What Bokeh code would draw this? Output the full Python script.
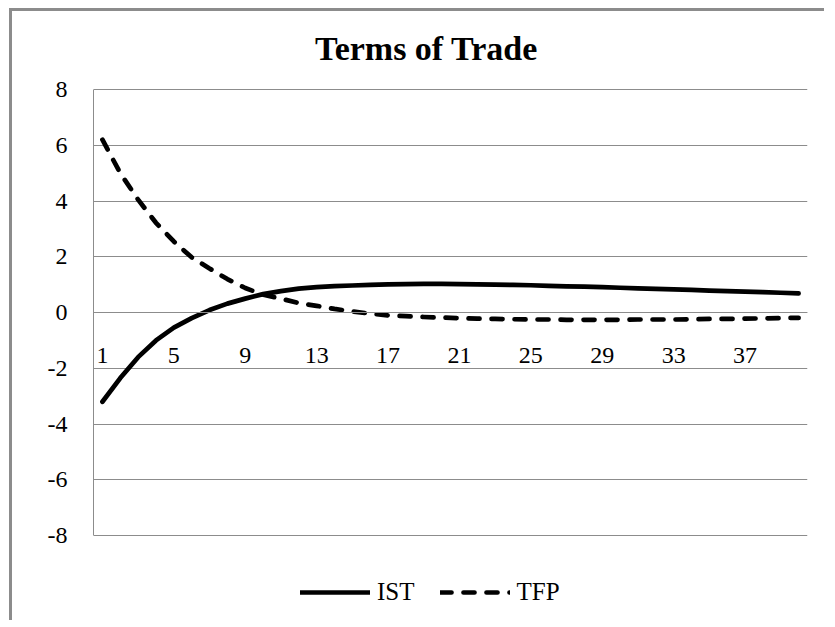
from bokeh.plotting import figure
from bokeh.models import Range1d, FixedTicker, Legend, LegendItem, LinearAxis, Grid, Label
from bokeh.embed import file_html
from bokeh.resources import INLINE

# ---- data ----
periods = list(range(1, 41))
ist = [-3.2, -2.35, -1.6, -1.0, -0.54, -0.2, 0.09, 0.32, 0.5, 0.66,
       0.77, 0.86, 0.91, 0.95, 0.97, 0.99, 1.01, 1.02, 1.03, 1.03,
       1.02, 1.01, 1.0, 0.99, 0.98, 0.96, 0.94, 0.93, 0.91, 0.89,
       0.87, 0.85, 0.83, 0.81, 0.79, 0.77, 0.75, 0.73, 0.71, 0.69]
tfp = [6.2, 5.0, 4.05, 3.22, 2.55, 1.98, 1.58, 1.2, 0.88, 0.64,
       0.5, 0.34, 0.24, 0.13, 0.04, -0.04, -0.1, -0.13, -0.16, -0.18,
       -0.2, -0.22, -0.23, -0.24, -0.25, -0.25, -0.26, -0.26, -0.26, -0.26,
       -0.25, -0.25, -0.25, -0.24, -0.23, -0.23, -0.22, -0.21, -0.2, -0.19]
x_ticks = [1, 5, 9, 13, 17, 21, 25, 29, 33, 37]
x_tick_labels = ["1", "5", "9", "13", "17", "21", "25", "29", "33", "37"]
y_ticks = [-8, -6, -4, -2, 0, 2, 4, 6, 8]
y_tick_labels = ["-8", "-6", "-4", "-2", "0", "2", "4", "6", "8"]
series_names = ["IST", "TFP"]
title_text = "Terms of Trade"

FONT = "Liberation Serif"
GRID = "#8c8c8c"

# the frame spans the full canvas height so the title and legend (drawn in the frame) are not clipped
p = figure(width=815, height=612, output_backend="svg", toolbar_location=None, title=None,
           x_range=Range1d(0.5, 40.5), y_range=Range1d(-11.155, 10.8),
           x_axis_location=None, y_axis_location=None,
           min_border_left=81, min_border_right=20, min_border_top=0, min_border_bottom=0)
p.styles = {"margin-left": "9px", "margin-top": "8px",
            "border-left": "3px solid #8c8c8c", "border-top": "3px solid #8c8c8c"}
p.outline_line_color = None
p.background_fill_color = "white"
p.border_fill_color = "white"
for g in p.grid:
    g.visible = False

# y axis (line limited to the -8..8 band)
yticker = FixedTicker(ticks=y_ticks)
yaxis = LinearAxis(ticker=yticker, bounds=(y_ticks[0], y_ticks[-1]))
yaxis.major_label_overrides = {t: l for t, l in zip(y_ticks, y_tick_labels)}
yaxis.axis_line_color = GRID
yaxis.axis_line_width = 1
yaxis.major_tick_line_color = None
yaxis.minor_tick_line_color = None
yaxis.major_tick_in = 0
yaxis.major_tick_out = 0
yaxis.major_label_standoff = 26
yaxis.major_label_text_font = FONT
yaxis.major_label_text_font_size = "24px"
yaxis.major_label_text_color = "black"
p.add_layout(yaxis, "left")

p.add_layout(Grid(dimension=1, ticker=yticker, grid_line_color=GRID, grid_line_width=1))

# x axis crossing at 0
xticker = FixedTicker(ticks=x_ticks)
xaxis = LinearAxis(ticker=xticker, fixed_location=0)
xaxis.major_label_overrides = {t: l for t, l in zip(x_ticks, x_tick_labels)}
xaxis.axis_line_color = GRID
xaxis.axis_line_width = 1
xaxis.major_tick_line_color = None
xaxis.minor_tick_line_color = None
xaxis.major_tick_in = 0
xaxis.major_tick_out = 0
xaxis.major_label_standoff = 35
xaxis.major_label_text_font = FONT
xaxis.major_label_text_font_size = "24px"
xaxis.major_label_text_color = "black"
p.add_layout(xaxis, "below")

r1 = p.line(periods, ist, line_color="black", line_width=4.7,
            line_cap="round", line_join="round")
r2 = p.line(periods, tfp, line_color="black", line_width=4.7,
            line_dash="11 12", line_cap="round", line_join="round")

# chart title
title = Label(x=333, y=575, x_units="screen", y_units="screen", text=title_text,
              text_align="center", text_baseline="alphabetic",
              text_font=FONT, text_font_size="34px", text_font_style="bold",
              text_color="black")
p.add_layout(title)

legend = Legend(items=[LegendItem(label=series_names[0], renderers=[r1]),
                       LegendItem(label=series_names[1], renderers=[r2])],
                orientation="horizontal", location=(207, 17),
                glyph_width=70, glyph_height=28, label_height=28,
                label_standoff=7, spacing=25, padding=0, margin=0,
                border_line_color=None, background_fill_alpha=0)
legend.label_text_font = FONT
legend.label_text_font_size = "25px"
legend.label_text_color = "black"
p.add_layout(legend)

open("out.html", "w").write(file_html(p, INLINE))
